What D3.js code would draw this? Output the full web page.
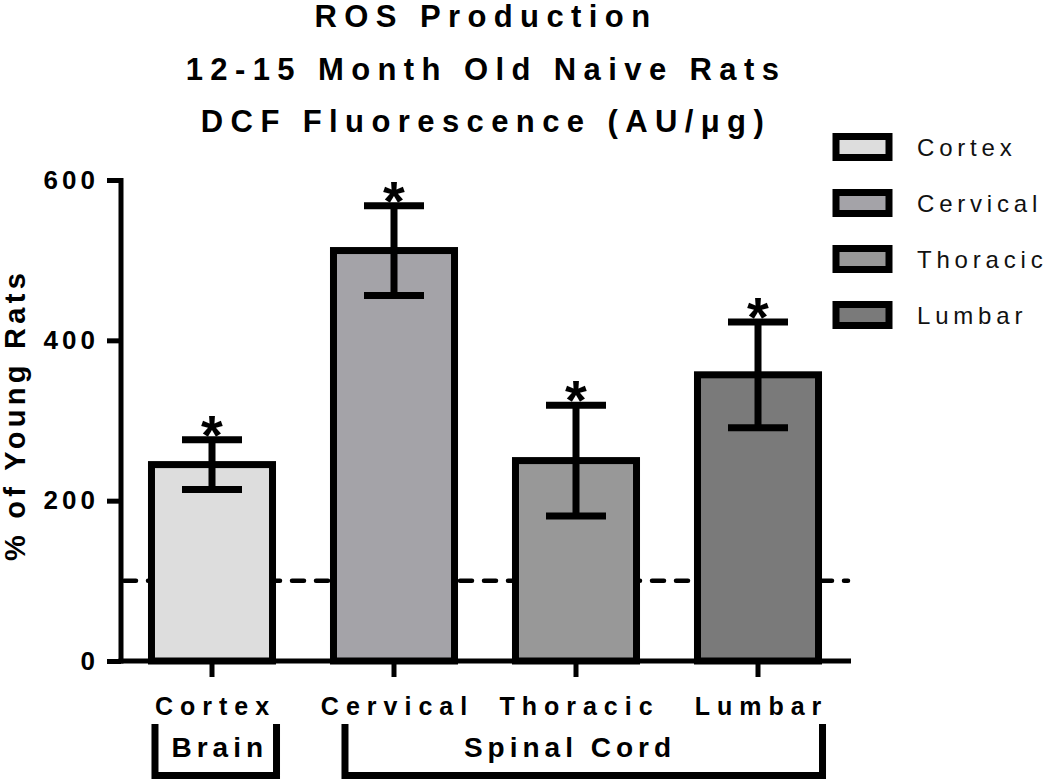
<!DOCTYPE html>
<html>
<head>
<meta charset="utf-8">
<script src="https://cdn.jsdelivr.net/npm/d3@7"></script>
<style>
  body { margin: 0; background: #fff; }
  svg { font-family: "Liberation Sans", Arial, sans-serif; }
</style>
</head>
<body>
<svg width="1050" height="780"></svg>
<script>
// data
const regions = ["Cortex", "Cervical", "Thoracic", "Lumbar"];
const means = [245, 512, 250, 357];
const errors = [31, 56, 69, 66];
const fills = ["#dddddd", "#a4a3a8", "#989898", "#7a7a7a"];
const yTicks = [0, 200, 400, 600];
const baseline = 100; // young rats = 100%
const titleLines = ["ROS Production", "12-15 Month Old Naive Rats", "DCF Fluorescence (AU/\u03bcg)"];
const groups = [
  {label: "Brain", first: "Cortex", last: "Cortex"},
  {label: "Spinal Cord", first: "Cervical", last: "Lumbar"}
];

const data = regions.map((r, i) => ({region: r, mean: means[i], err: errors[i], fill: fills[i]}));

const font = "'Liberation Sans', Arial, sans-serif";
const svg = d3.select("svg");

const x = d3.scaleBand()
    .domain(regions)
    .range([121, 849])
    .paddingInner(0.335)
    .paddingOuter(0.1675);

const y = d3.scaleLinear()
    .domain([0, 600])
    .range([661, 180]);

// title
svg.append("g")
    .selectAll("text")
    .data(titleLines)
    .enter().append("text")
    .attr("x", 486)
    .attr("y", (d, i) => 27 + i * 52.5)
    .attr("text-anchor", "middle")
    .style("font-size", "31px")
    .style("font-weight", "bold")
    .style("letter-spacing", "7.4px")
    .text(d => d);

// dashed reference line at 100%
svg.append("line")
    .attr("x1", 124)
    .attr("x2", 848)
    .attr("y1", y(baseline))
    .attr("y2", y(baseline))
    .attr("stroke", "#000")
    .attr("stroke-width", 4.5)
    .attr("stroke-linecap", "round")
    .attr("stroke-dasharray", "12,12");

// bars
svg.selectAll(".bar")
    .data(data)
    .enter().append("rect")
    .attr("class", "bar")
    .attr("x", d => x(d.region))
    .attr("y", d => y(d.mean))
    .attr("width", x.bandwidth())
    .attr("height", d => y(0) - y(d.mean))
    .attr("fill", d => d.fill)
    .attr("stroke", "#000")
    .attr("stroke-width", 7);

// error bars
const cx = d => x(d.region) + x.bandwidth() / 2;
const eb = svg.append("g")
    .attr("stroke", "#000")
    .attr("stroke-width", 7);

eb.selectAll(".stem")
    .data(data)
    .enter().append("line")
    .attr("x1", cx).attr("x2", cx)
    .attr("y1", d => y(d.mean - d.err))
    .attr("y2", d => y(d.mean + d.err));

eb.selectAll(".capHi")
    .data(data)
    .enter().append("line")
    .attr("x1", d => cx(d) - 30).attr("x2", d => cx(d) + 30)
    .attr("y1", d => y(d.mean + d.err))
    .attr("y2", d => y(d.mean + d.err));

eb.selectAll(".capLo")
    .data(data)
    .enter().append("line")
    .attr("x1", d => cx(d) - 30).attr("x2", d => cx(d) + 30)
    .attr("y1", d => y(d.mean - d.err))
    .attr("y2", d => y(d.mean - d.err));

// significance stars
svg.selectAll(".star")
    .data(data)
    .enter().append("text")
    .attr("x", cx)
    .attr("y", d => y(d.mean + d.err) + 14)
    .attr("text-anchor", "middle")
    .style("font-size", "56px")
    .style("font-weight", "bold")
    .text("*");

// y axis
const yAxis = svg.append("g")
    .attr("transform", "translate(121,0)")
    .call(d3.axisLeft(y).tickValues(yTicks).tickSize(14).tickSizeOuter(0).tickPadding(12));
yAxis.select(".domain").attr("stroke-width", 5).attr("d", "M0,178V663.5");
yAxis.selectAll(".tick line").attr("stroke-width", 5);
yAxis.selectAll(".tick text")
    .attr("dx", "4px")
    .style("font-size", "26px")
    .style("font-weight", "bold")
    .style("letter-spacing", "4px")
    .style("font-family", font)
    .attr("fill", "#000");

// x axis
const xAxis = svg.append("g")
    .attr("transform", `translate(0,${y(0)})`)
    .call(d3.axisBottom(x).tickSize(16).tickSizeOuter(0));
xAxis.select(".domain").attr("stroke-width", 5).attr("d", "M118.5,0H851");
xAxis.selectAll(".tick line").attr("stroke-width", 5);
xAxis.selectAll(".tick text")
    .attr("y", 54)
    .attr("dy", 0)
    .attr("dx", "3.5px")
    .style("font-size", "25px")
    .style("font-weight", "bold")
    .style("letter-spacing", "7px")
    .style("font-family", font)
    .attr("fill", "#000");

// y axis label
svg.append("text")
    .attr("transform", "rotate(-90)")
    .attr("x", -415)
    .attr("y", 25)
    .attr("text-anchor", "middle")
    .style("font-size", "29px")
    .style("font-weight", "bold")
    .style("letter-spacing", "4.3px")
    .text("% of Young Rats");

// group brackets under the x labels
const bracketL = g => g.first === g.last ? x(g.first) + 3.5 : x(g.first) + 11.5;
const bracketR = g => x(g.last) + x.bandwidth() + 4;
svg.selectAll(".bracket")
    .data(groups)
    .enter().append("path")
    .attr("class", "bracket")
    .attr("fill", "none")
    .attr("stroke", "#000")
    .attr("stroke-width", 7)
    .attr("d", g => `M${bracketL(g)},724V775.5H${bracketR(g)}V724`);

svg.selectAll(".groupLabel")
    .data(groups)
    .enter().append("text")
    .attr("x", (g, i) => i === 0 ? (bracketL(g) + bracketR(g)) / 2 + 4 : 570)
    .attr("y", 757)
    .attr("text-anchor", "middle")
    .style("font-size", "28px")
    .style("font-weight", "bold")
    .style("letter-spacing", "5px")
    .text(g => g.label);

// legend
const legend = svg.append("g")
    .attr("transform", "translate(836,147)");
const item = legend.selectAll(".item")
    .data(data)
    .enter().append("g")
    .attr("transform", (d, i) => `translate(0,${i * 56})`);
item.append("rect")
    .attr("x", 0)
    .attr("y", -10.5)
    .attr("width", 53)
    .attr("height", 21)
    .attr("fill", d => d.fill)
    .attr("stroke", "#000")
    .attr("stroke-width", 7);
item.append("text")
    .attr("x", 81)
    .attr("y", 9)
    .style("font-size", "24px")
    .style("letter-spacing", "4.8px")
    .attr("fill", "#111")
    .text(d => d.region);
</script>
</body>
</html>
